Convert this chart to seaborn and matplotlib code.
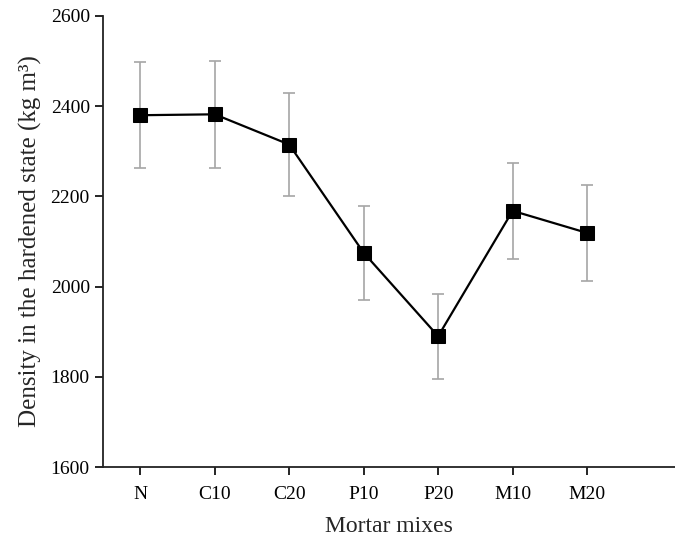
import numpy as np
import pandas as pd
import matplotlib
matplotlib.use("Agg")
import matplotlib.pyplot as plt
import seaborn as sns

mixes = ["N", "C10", "C20", "P10", "P20", "M10", "M20"]
density = [2380, 2382, 2315, 2075, 1890, 2168, 2119]
err = [118, 118, 115, 104, 94, 107, 106]

sns.set_theme(style="ticks")
plt.rcParams["font.family"] = ["Liberation Serif", "DejaVu Serif"]

df = pd.DataFrame({"pos": np.arange(len(mixes)), "mix": mixes, "density": density, "err": err})

fig = plt.figure(figsize=(6.75, 5.4), dpi=100)
ax = fig.add_axes([103/675, 73/540, 1 - 103/675, (467-16)/540])

ax.errorbar(df["pos"], df["density"], yerr=df["err"], fmt="none",
            ecolor="#a6a6a6", elinewidth=1.2, capsize=4.5, capthick=1.2, zorder=1)
sns.lineplot(data=df, x="pos", y="density", ax=ax, color="black", linewidth=1.6,
             marker="s", markersize=10.5, markeredgecolor="black",
             markerfacecolor="black", zorder=3)

ax.set_xlim(-0.5, 7.18)
ax.set_ylim(1600, 2600)
ax.set_xticks(df["pos"])
ax.set_xticklabels(mixes)
ax.set_yticks([1600, 1800, 2000, 2200, 2400, 2600])
ax.set_xlabel("Mortar mixes", fontsize=17, labelpad=9)
ax.set_ylabel("Density in the hardened state (kg m\u00b3)", fontsize=18, labelpad=6)
ax.tick_params(axis="both", direction="out", length=6, width=1.2, labelsize=14, colors="black")
ax.tick_params(axis="x", pad=8)
for s in ["top", "right"]:
    ax.spines[s].set_visible(False)
for s in ["left", "bottom"]:
    ax.spines[s].set_linewidth(1.3)
    ax.spines[s].set_color("#222222")

fig.savefig("out.png", dpi=100)
